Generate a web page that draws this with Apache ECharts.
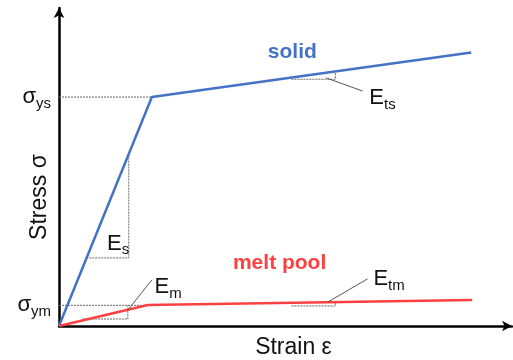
<!DOCTYPE html>
<html>
<head>
<meta charset="utf-8">
<script src="https://cdn.jsdelivr.net/npm/echarts@6/dist/echarts.min.js"></script>
<style>html,body{margin:0;padding:0;background:#fff;}#c{width:513px;height:360px;}</style>
</head>
<body>
<div id="c"></div>
<script>
// Schematic stress-strain data (arbitrary units, 0-100)
const strainSolid = [0, 20.5, 91.0];
const stressSolid = [0, 72.0, 86.0];
const strainMelt = [0, 19.6, 91.2];
const stressMelt = [0, 6.6, 8.2];

const yieldValues = [6.5, 72.0];
const yieldLabels = ['ym', 'ys'];

// dotted construction lines [x list, y list]
const guideYsX = [0, 20.5];        const guideYsY = [72.0, 72.0];
const guideEsX = [6.0, 15.4, 15.4]; const guideEsY = [21.4, 21.4, 54.1];
const guideYmX = [0, 19.6];        const guideYmY = [6.5, 6.5];
const guideEmX = [5.3, 15.2, 15.2]; const guideEmY = [2.2, 2.2, 6.5];
const guideEtsX = [51.3, 61.0, 61.0]; const guideEtsY = [77.6, 77.6, 79.8];
const guideEtmX = [51.3, 61.0, 61.0]; const guideEtmY = [6.3, 6.3, 7.5];

// leader lines
const leadEmX = [15.2, 20.5];  const leadEmY = [5.0, 14.5];
const leadEtsX = [59.0, 67.0]; const leadEtsY = [78.0, 73.9];
const leadEtmX = [59.3, 68.1]; const leadEtmY = [7.5, 14.8];

// modulus labels: x, y, subscript
const modX = [10.6, 21.1, 68.5, 69.4];
const modY = [25.9, 12.3, 71.7, 14.8];
const modSub = ['s', 'm', 'ts', 'tm'];

const seriesNames = ['solid', 'melt pool'];
const nameX = [51.5, 48.7];
const nameY = [86.2, 19.8];

const FONT = '"Liberation Sans", Arial, sans-serif';
const BLUE = '#4472C4';
const RED = '#FF4040';
const nameColors = [BLUE, RED];

function zip(xs, ys) { return xs.map((x, i) => [x, ys[i]]); }

function dotted(xs, ys) {
  return { type: 'line', data: zip(xs, ys), symbol: 'none', silent: true, z: 1,
    lineStyle: { color: '#666', width: 1, type: [2, 1] } };
}
function leader(xs, ys) {
  return { type: 'line', data: zip(xs, ys), symbol: 'none', silent: true, z: 4,
    lineStyle: { color: '#555', width: 1 } };
}

const chart = echarts.init(document.getElementById('c'), null, { renderer: 'canvas' });

const option = {
  animation: false,
  backgroundColor: '#fff',
  grid: { left: 59, right: 1, top: 8, bottom: 34, containLabel: false, outerBoundsMode: 'none' },
  xAxis: {
    type: 'value', min: 0, max: 100,
    name: 'Strain ε', nameLocation: 'middle', nameGap: 10, nameMoveOverlap: false,
    nameTextStyle: { fontFamily: FONT, fontSize: 23, color: '#111', verticalAlign: 'top', padding: [0, 0, 0, 16] },
    axisLine: { show: true, onZero: false, lineStyle: { color: '#000', width: 2.5 }, symbol: ['none', 'arrow'], symbolSize: [8, 10], symbolOffset: [0, 0] },
    axisTick: { show: false }, axisLabel: { show: false }, splitLine: { show: false }
  },
  yAxis: {
    type: 'value', min: 0, max: 100,
    name: 'Stress σ', nameLocation: 'middle', nameGap: 8, nameRotate: 90, nameMoveOverlap: false,
    nameTextStyle: { fontFamily: FONT, fontSize: 23, color: '#111', verticalAlign: 'bottom', padding: [0, 60, 0, 0] },
    axisLine: { show: true, onZero: false, lineStyle: { color: '#000', width: 2.5 }, symbol: ['none', 'arrow'], symbolSize: [8, 10] },
    axisTick: { show: false }, splitLine: { show: false },
    axisLabel: {
      show: true, customValues: yieldValues, margin: 8,
      formatter: function (v) {
        const i = yieldValues.indexOf(v);
        return '{s|σ}{sub|' + (i >= 0 ? yieldLabels[i] : '') + '}';
      },
      rich: {
        s: { fontFamily: FONT, fontSize: 22, color: '#111' },
        sub: { fontFamily: FONT, fontSize: 15, color: '#111', padding: [13, 0, 0, 0] }
      }
    }
  },
  series: [
    dotted(guideYsX, guideYsY),
    dotted(guideEsX, guideEsY),
    dotted(guideYmX, guideYmY),
    dotted(guideEmX, guideEmY),
    dotted(guideEtsX, guideEtsY),
    dotted(guideEtmX, guideEtmY),
    leader(leadEmX, leadEmY),
    leader(leadEtsX, leadEtsY),
    leader(leadEtmX, leadEtmY),
    { type: 'line', name: seriesNames[0], data: zip(strainSolid, stressSolid), symbol: 'none', z: 3,
      lineStyle: { color: BLUE, width: 2.5 } },
    { type: 'line', name: seriesNames[1], data: zip(strainMelt, stressMelt), symbol: 'none', z: 3,
      lineStyle: { color: RED, width: 2.5 } },
    { type: 'scatter', data: zip(modX, modY).map((p, i) => ({ value: p, sub: modSub[i] })),
      symbolSize: 0, silent: true, z: 5, clip: false, itemStyle: { color: '#111', opacity: 1 },
      label: { show: true, position: 'right', distance: 0, color: '#111', textBorderWidth: 0, opacity: 1,
        formatter: p => '{e|E}{sub|' + p.data.sub + '}',
        rich: {
          e: { fontFamily: FONT, fontSize: 22, color: '#111' },
          sub: { fontFamily: FONT, fontSize: 15, color: '#111', padding: [13, 0, 0, 0] }
        } } },
    { type: 'scatter', data: zip(nameX, nameY).map((p, i) => ({ value: p, name: seriesNames[i],
        label: { color: nameColors[i] } })),
      symbolSize: 0, silent: true, z: 5, clip: false, itemStyle: { opacity: 1 },
      label: { show: true, position: 'inside', formatter: p => p.name, textBorderWidth: 0, opacity: 1,
        fontFamily: FONT, fontSize: 21, fontWeight: 'bold' } }
  ]
};
chart.setOption(option);
</script>
</body>
</html>
